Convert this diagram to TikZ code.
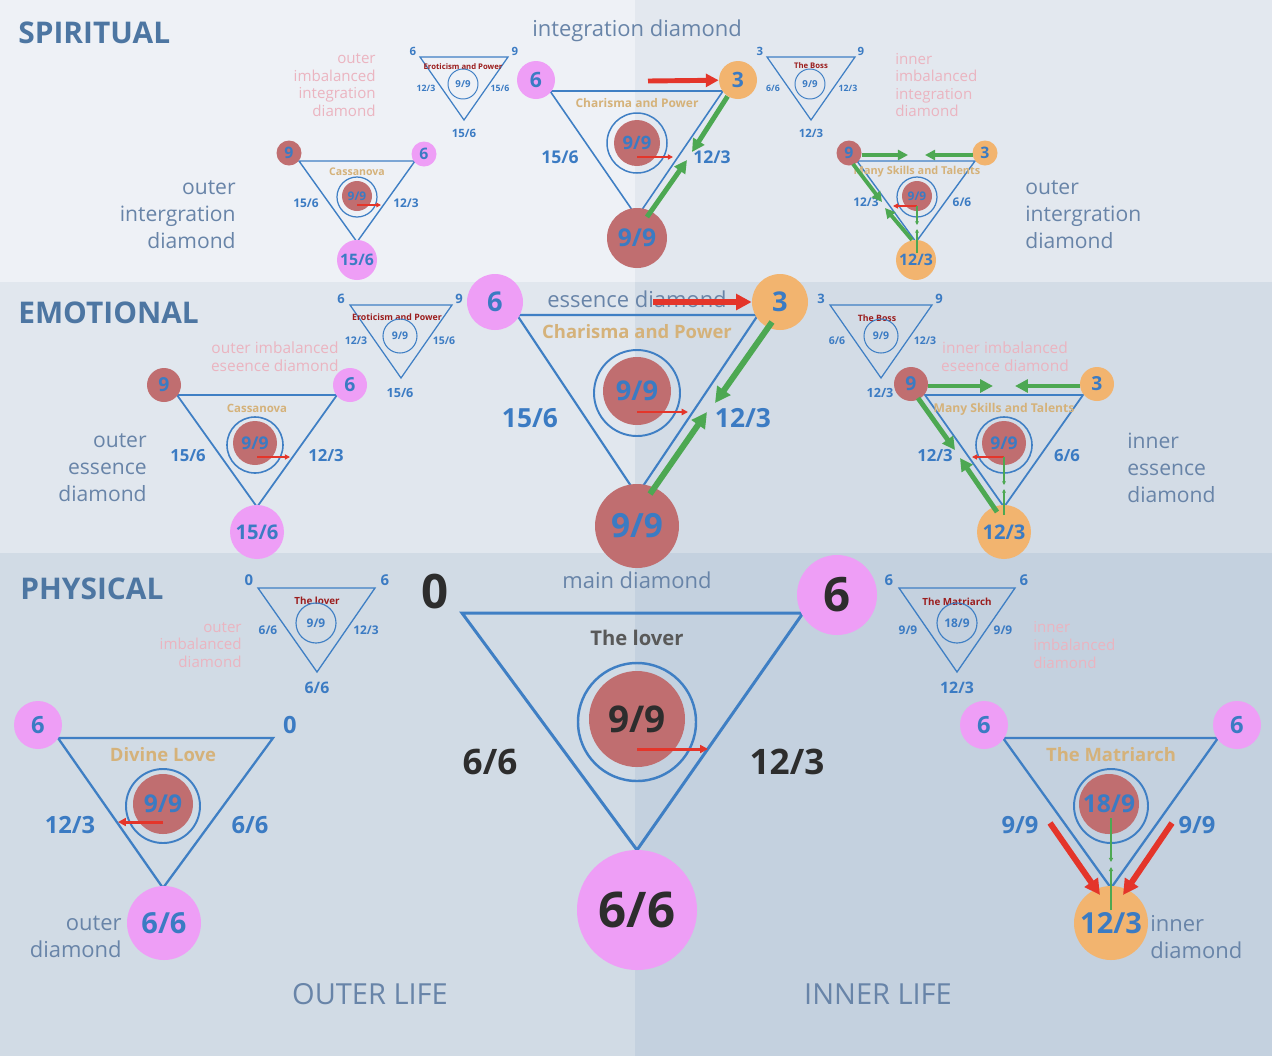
\documentclass[tikz,border=0pt]{standalone}
\usepackage{fontspec}
\setmainfont{Open Sans}
\usepackage{tikz}
\usetikzlibrary{arrows.meta}
\definecolor{BgSpL}{HTML}{EEF1F6}
\definecolor{BgSpR}{HTML}{E3E8EF}
\definecolor{BgEmL}{HTML}{E1E7EE}
\definecolor{BgEmR}{HTML}{D3DCE6}
\definecolor{BgPhL}{HTML}{D1DBE5}
\definecolor{BgPhR}{HTML}{C4D1DF}
\definecolor{LineBlue}{HTML}{3F7FC4}
\definecolor{NumBlue}{HTML}{3B7BC3}
\definecolor{PinkC}{HTML}{EE9EF6}
\definecolor{RedC}{HTML}{C06E70}
\definecolor{OrangeC}{HTML}{F2B46F}
\definecolor{GoldT}{HTML}{D5B27A}
\definecolor{DarkRed}{HTML}{9B1D1D}
\definecolor{FadePink}{HTML}{EBB4C0}
\definecolor{LblGray}{HTML}{6884A8}
\definecolor{TitleBlue}{HTML}{4D76A2}
\definecolor{ArrGreen}{HTML}{4DA852}
\definecolor{ArrRed}{HTML}{E4352A}
\definecolor{DarkTxt}{HTML}{2D2D2D}
\definecolor{LoverGray}{HTML}{595959}
\newcommand\fsz[2]{\fontsize{#1}{#2}\selectfont}
\newcommand\bnum[1]{\fontsize{#1}{#1}\selectfont\bfseries}

\begin{document}
\begin{tikzpicture}[x=0.02cm, y=-0.02cm,
    ball/.style={circle, inner sep=0pt, minimum size=#1*0.02cm, text=NumBlue},
    pk/.style={ball=#1, fill=PinkC},
    rd/.style={ball=#1, fill=RedC},
    og/.style={ball=#1, fill=OrangeC},
    ring/.style={circle, inner sep=0pt, minimum size=#1*0.02cm, draw=LineBlue, text=NumBlue},
    tri/.style={draw=LineBlue, line width=#1},
    num/.style={text=NumBlue, inner sep=0pt},
    gold/.style={text=GoldT, inner sep=0pt},
    boss/.style={text=DarkRed, inner sep=0pt, font=\bnum{#1}},
    lbl/.style={text=LblGray, inner sep=0pt},
    faint/.style={text=FadePink, inner sep=0pt, font=\fsz{8.6}{10}},
    band/.style={text=TitleBlue, inner sep=0pt, anchor=west, font=\bnum{17}},
    rarr/.style={draw=ArrRed, line width=#1, -{Triangle[length=0pt 2.6, width=0pt 2.6]}},
    garr/.style={draw=ArrGreen, line width=#1, -{Triangle[length=0pt 2.6, width=0pt 2.6]}}
  ]
  \useasboundingbox (0,0) rectangle (1272,1056);

  % bands: outer life left, inner life right
  \fill[BgSpL] (0,0) rectangle (635,282);
  \fill[BgSpR] (635,0) rectangle (1272,282);
  \fill[BgEmL] (0,282) rectangle (635,553);
  \fill[BgEmR] (635,282) rectangle (1272,553);
  \fill[BgPhL] (0,553) rectangle (635,1056);
  \fill[BgPhR] (635,553) rectangle (1272,1056);

  \node[band] (tSpi) at (18,33) {SPIRITUAL};
  \node[band] (tEmo) at (18,313) {EMOTIONAL};
  \node[band] (tPhy) at (20,589) {PHYSICAL};

  % ---------------- spiritual
  \node[lbl, font=\fsz{12.5}{15}] (sTitle) at (637,31) {integration diamond};
  \node[faint, anchor=east, align=right] (sFadeL) at (376,85) {outer\\imbalanced\\integration\\diamond};
  \node[faint, anchor=west, align=left] (sFadeR) at (895,85) {inner\\imbalanced\\integration\\diamond};
  \node[lbl, font=\fsz{12}{15.3}, anchor=east, align=right] (sOutL) at (236,215) {outer\\intergration\\diamond};
  \node[lbl, font=\fsz{12}{15.3}, anchor=west, align=left] (sOutR) at (1025,215) {outer\\intergration\\diamond};

  % main integration diamond
  \coordinate (sa) at (550,91); \coordinate (sb) at (723,91); \coordinate (sc) at (637,217);
  \draw[tri=0.9pt] (sa) -- (sb) -- (sc) -- cycle;
  \node[gold, font=\bnum{6.8}] (sName) at (637,103) {Charisma and Power};
  \node[ring=60, line width=0.85pt] (sRing) at (637,143) {};
  \node[rd=46, font=\bnum{10.5}] (sCore) at (637,143) {9/9};
  \node[pk=38, font=\bnum{12}] (sSix) at (536,80) {6};
  \node[og=38, font=\bnum{12}] (sThree) at (738,80) {3};
  \node[rd=60, font=\bnum{14}] (sBase) at (637,238) {9/9};
  \node[num, font=\bnum{10}] (sLeft) at (560,157) {15/6};
  \node[num, font=\bnum{10}] (sRight) at (712,157) {12/3};
  \coordinate (sR1) at (637,157); \coordinate (sR2) at (673,157);
  \draw[rarr=1.1pt] (sR1) -- (sR2);
  \coordinate (sR3) at (648,81);
  \draw[rarr=2.8pt] (sR3) -- (sThree);
  \coordinate (sG1) at (692,152); \coordinate (sG2) at (647,217); \coordinate (sG3) at (687,160);
  \draw[garr=2.8pt] (sThree) -- (sG1);
  \draw[garr=2.8pt] (sG2) -- (sG3);

  % outer imbalanced (small)
  \coordinate (e1a) at (420,57); \coordinate (e1b) at (508,57); \coordinate (e1c) at (464,120);
  \draw[tri=0.7pt] (e1a) -- (e1b) -- (e1c) -- cycle;
  \node[num, font=\bnum{6.5}] (e1x) at (413,51) {6};
  \node[num, font=\bnum{6.5}] (e1y) at (515,51) {9};
  \node[boss=4.4] (e1n) at (463,67) {Eroticism and Power};
  \node[ring=30, line width=0.55pt, font=\bnum{5.5}] (e1r) at (463,84) {9/9};
  \node[num, font=\bnum{5}] (e1l) at (426,88) {12/3};
  \node[num, font=\bnum{5}] (e1m) at (500,88) {15/6};
  \node[num, font=\bnum{6.5}] (e1z) at (464,133) {15/6};

  % outer integration (Cassanova)
  \coordinate (soa) at (299,161); \coordinate (sob) at (415,161); \coordinate (soc) at (357,242);
  \draw[tri=0.8pt] (soa) -- (sob) -- (soc) -- cycle;
  \node[gold, font=\bnum{6}] (soName) at (357,172) {Cassanova};
  \node[ring=40, line width=0.7pt] (soRing) at (357,197) {};
  \node[rd=30, font=\bnum{6.8}] (soCore) at (357,196) {9/9};
  \node[rd=25, font=\bnum{9}] (soNine) at (289,153) {9};
  \node[pk=25, font=\bnum{9}] (soSix) at (424,154) {6};
  \node[pk=40, font=\bnum{9}] (soBase) at (357,260) {15/6};
  \node[num, font=\bnum{6.8}] (soLeft) at (306,203) {15/6};
  \node[num, font=\bnum{6.8}] (soRight) at (406,203) {12/3};
  \coordinate (soR1) at (357,205); \coordinate (soR2) at (381,205);
  \draw[rarr=1pt] (soR1) -- (soR2);

  % inner imbalanced (small)
  \coordinate (b1a) at (767,57); \coordinate (b1b) at (855,57); \coordinate (b1c) at (811,120);
  \draw[tri=0.7pt] (b1a) -- (b1b) -- (b1c) -- cycle;
  \node[num, font=\bnum{6.5}] (b1x) at (760,51) {3};
  \node[num, font=\bnum{6.5}] (b1y) at (861,51) {9};
  \node[boss=4.4] (b1n) at (811,66) {The Boss};
  \node[ring=30, line width=0.55pt, font=\bnum{5.5}] (b1r) at (810,84) {9/9};
  \node[num, font=\bnum{5}] (b1l) at (773,88) {6/6};
  \node[num, font=\bnum{5}] (b1m) at (848,88) {12/3};
  \node[num, font=\bnum{6.5}] (b1z) at (811,133) {12/3};

  % inner integration (Many Skills)
  \coordinate (sia) at (857,161); \coordinate (sib) at (975,161); \coordinate (sic) at (916,242);
  \draw[tri=0.8pt] (sia) -- (sib) -- (sic) -- cycle;
  \node[gold, font=\bnum{6.2}] (siName) at (917,172) {Many Skills and Talents};
  \node[ring=40, line width=0.7pt] (siRing) at (917,197) {};
  \node[rd=30, font=\bnum{6.8}] (siCore) at (917,196) {9/9};
  \node[rd=25, font=\bnum{9}] (siNine) at (849,153) {9};
  \node[og=25, font=\bnum{9}] (siThree) at (985,153) {3};
  \node[og=40, font=\bnum{9}] (siBase) at (916,260) {12/3};
  \node[num, font=\bnum{6.8}] (siLeft) at (866,202) {12/3};
  \node[num, font=\bnum{6.8}] (siRight) at (962,202) {6/6};
  \coordinate (siG1) at (862,155); \coordinate (siG2) at (908,155);
  \coordinate (siG3) at (973,155); \coordinate (siG4) at (925,155);
  \coordinate (siG5) at (853,164); \coordinate (siG6) at (882,202);
  \coordinate (siG7) at (912,240); \coordinate (siG8) at (885,208);
  \draw[garr=2.2pt] (siG1) -- (siG2);
  \draw[garr=2.2pt] (siG3) -- (siG4);
  \draw[garr=2.2pt] (siG5) -- (siG6);
  \draw[garr=2.2pt] (siG7) -- (siG8);
  \coordinate (siC) at (917,206); \coordinate (siR) at (893,206);
  \coordinate (siD1) at (917,225); \coordinate (siD2) at (917,253); \coordinate (siD3) at (917,229);
  \draw[rarr=1.1pt] (siC) -- (siR);
  \draw[garr=0.8pt] (siC) -- (siD1);
  \draw[garr=0.8pt] (siD2) -- (siD3);

  % ---------------- emotional
  \node[lbl, font=\fsz{12.5}{15}] (eTitle) at (637,299) {essence diamond};
  \node[faint, font=\fsz{8.8}{10.2}, anchor=east, align=right] (eFadeL) at (339,357) {outer imbalanced\\eseence diamond};
  \node[faint, font=\fsz{8.8}{10.2}, align=center] (eFadeR) at (1005,357) {inner imbalanced\\eseence diamond};
  \node[lbl, font=\fsz{12}{15.3}, anchor=east, align=right] (eOutL) at (147,468) {outer\\essence\\diamond};
  \node[lbl, font=\fsz{12}{15.3}, anchor=west, align=left] (eOutR) at (1127,468) {inner\\essence\\diamond};

  % main essence diamond
  \coordinate (ema) at (517,315); \coordinate (emb) at (758,315); \coordinate (emc) at (637,495);
  \draw[tri=1.2pt] (ema) -- (emb) -- (emc) -- cycle;
  \node[gold, font=\bnum{10.5}] (emName) at (637,332) {Charisma and Power};
  \node[ring=86, line width=1.1pt] (emRing) at (637,393) {};
  \node[rd=68, font=\bnum{15.5}] (emCore) at (637,391) {9/9};
  \node[pk=56, font=\bnum{15.5}] (emSix) at (495,302) {6};
  \node[og=56, font=\bnum{15.5}] (emThree) at (780,302) {3};
  \node[rd=84, font=\bnum{19}] (emBase) at (637,526) {9/9};
  \node[num, font=\bnum{15}] (emLeft) at (530,418) {15/6};
  \node[num, font=\bnum{15}] (emRight) at (743,418) {12/3};
  \coordinate (emR1) at (637,412); \coordinate (emR2) at (688,412);
  \draw[rarr=1.4pt] (emR1) -- (emR2);
  \coordinate (emR3) at (653,302);
  \draw[rarr=3.4pt] (emR3) -- (emThree);
  \coordinate (emG1) at (772,322); \coordinate (emG2) at (715,403);
  \coordinate (emG3) at (650,494); \coordinate (emG4) at (707,412);
  \draw[garr=3.4pt] (emG1) -- (emG2);
  \draw[garr=3.4pt] (emG3) -- (emG4);

  % outer imbalanced (small)
  \coordinate (e2a) at (350,305); \coordinate (e2b) at (452,305); \coordinate (e2c) at (401,378);
  \draw[tri=0.7pt] (e2a) -- (e2b) -- (e2c) -- cycle;
  \node[num, font=\bnum{7.4}] (e2x) at (341,299) {6};
  \node[num, font=\bnum{7.4}] (e2y) at (459,299) {9};
  \node[boss=5] (e2n) at (397,317) {Eroticism and Power};
  \node[ring=34, line width=0.6pt, font=\bnum{6}] (e2r) at (400,336) {9/9};
  \node[num, font=\bnum{6}] (e2l) at (356,341) {12/3};
  \node[num, font=\bnum{6}] (e2m) at (444,341) {15/6};
  \node[num, font=\bnum{7.2}] (e2z) at (400,393) {15/6};

  % outer essence (Cassanova)
  \coordinate (eoa) at (177,395); \coordinate (eob) at (337,395); \coordinate (eoc) at (257,507);
  \draw[tri=1pt] (eoa) -- (eob) -- (eoc) -- cycle;
  \node[gold, font=\bnum{6.5}] (eoName) at (257,408) {Cassanova};
  \node[ring=56, line width=0.9pt] (eoRing) at (255,445) {};
  \node[rd=44, font=\bnum{10}] (eoCore) at (255,443) {9/9};
  \node[rd=34, font=\bnum{11}] (eoNine) at (164,385) {9};
  \node[pk=34, font=\bnum{11}] (eoSix) at (350,385) {6};
  \node[pk=54, font=\bnum{11.5}] (eoBase) at (257,532) {15/6};
  \node[num, font=\bnum{9.5}] (eoLeft) at (188,456) {15/6};
  \node[num, font=\bnum{9.5}] (eoRight) at (326,456) {12/3};
  \coordinate (eoR1) at (257,457); \coordinate (eoR2) at (290,457);
  \draw[rarr=1.1pt] (eoR1) -- (eoR2);

  % inner imbalanced (small)
  \coordinate (b2a) at (830,305); \coordinate (b2b) at (932,305); \coordinate (b2c) at (881,378);
  \draw[tri=0.7pt] (b2a) -- (b2b) -- (b2c) -- cycle;
  \node[num, font=\bnum{7.4}] (b2x) at (821,299) {3};
  \node[num, font=\bnum{7.4}] (b2y) at (939,299) {9};
  \node[boss=5] (b2n) at (877,318) {The Boss};
  \node[ring=34, line width=0.6pt, font=\bnum{6}] (b2r) at (881,336) {9/9};
  \node[num, font=\bnum{6}] (b2l) at (837,341) {6/6};
  \node[num, font=\bnum{6}] (b2m) at (925,341) {12/3};
  \node[num, font=\bnum{7.2}] (b2z) at (880,393) {12/3};

  % inner essence (Many Skills)
  \coordinate (eia) at (925,395); \coordinate (eib) at (1083,395); \coordinate (eic) at (1004,507);
  \draw[tri=1pt] (eia) -- (eib) -- (eic) -- cycle;
  \node[gold, font=\bnum{6.9}] (eiName) at (1004,409) {Many Skills and Talents};
  \node[ring=56, line width=0.9pt] (eiRing) at (1004,445) {};
  \node[rd=44, font=\bnum{10}] (eiCore) at (1004,443) {9/9};
  \node[rd=34, font=\bnum{11}] (eiNine) at (911,384) {9};
  \node[og=34, font=\bnum{11}] (eiThree) at (1097,384) {3};
  \node[og=54, font=\bnum{11.5}] (eiBase) at (1004,532) {12/3};
  \node[num, font=\bnum{9.5}] (eiLeft) at (935,456) {12/3};
  \node[num, font=\bnum{9.5}] (eiRight) at (1067,456) {6/6};
  \coordinate (eiG1) at (928,386); \coordinate (eiG2) at (993,386);
  \coordinate (eiG3) at (1080,386); \coordinate (eiG4) at (1015,386);
  \coordinate (eiG5) at (918,398); \coordinate (eiG6) at (955,450);
  \coordinate (eiG7) at (997,512); \coordinate (eiG8) at (960,458);
  \draw[garr=2.8pt] (eiG1) -- (eiG2);
  \draw[garr=2.8pt] (eiG3) -- (eiG4);
  \draw[garr=2.8pt] (eiG5) -- (eiG6);
  \draw[garr=2.8pt] (eiG7) -- (eiG8);
  \coordinate (eiC) at (1004,457); \coordinate (eiR) at (972,457);
  \coordinate (eiD1) at (1004,485); \coordinate (eiD2) at (1004,515); \coordinate (eiD3) at (1004,489);
  \draw[rarr=1.1pt] (eiC) -- (eiR);
  \draw[garr=0.8pt] (eiC) -- (eiD1);
  \draw[garr=0.8pt] (eiD2) -- (eiD3);

  % ---------------- physical
  \node[lbl, font=\fsz{12.5}{15}] (pTitle) at (637,580) {main diamond};
  \node[faint, anchor=east, align=right] (pFadeL) at (242,645) {outer\\imbalanced\\diamond};
  \node[faint, anchor=west, align=left] (pFadeR) at (1033,645) {inner\\imbalanced\\diamond};
  \node[lbl, font=\fsz{12.5}{15.3}, anchor=east, align=right] (pOutL) at (122,937) {outer\\diamond};
  \node[lbl, font=\fsz{12.5}{15.3}, anchor=west, align=left] (pOutR) at (1150,937) {inner\\diamond};
  \node[lbl, font=\fsz{16.5}{16.5}] (pOuter) at (370,994) {OUTER LIFE};
  \node[lbl, font=\fsz{16.5}{16.5}] (pInner) at (878,994) {INNER LIFE};

  % main diamond
  \coordinate (pma) at (462,613); \coordinate (pmb) at (803,613); \coordinate (pmc) at (637,850);
  \draw[tri=1.7pt] (pma) -- (pmb) -- (pmc) -- cycle;
  \node[num, text=DarkTxt, font=\bnum{27}] (pmZero) at (435,592) {0};
  \node[num, text=LoverGray, font=\bnum{11.5}] (pmName) at (637,638) {The lover};
  \node[ring=118, line width=1.4pt] (pmRing) at (637,722) {};
  \node[rd=96, text=DarkTxt, font=\bnum{21}] (pmCore) at (637,719) {9/9};
  \node[pk=80, text=DarkTxt, font=\bnum{27}] (pmSix) at (837,595) {6};
  \node[pk=120, text=DarkTxt, font=\bnum{28}] (pmBase) at (637,910) {6/6};
  \node[num, text=DarkTxt, font=\bnum{20}] (pmLeft) at (490,762) {6/6};
  \node[num, text=DarkTxt, font=\bnum{20}] (pmRight) at (787,762) {12/3};
  \coordinate (pmR1) at (637,749); \coordinate (pmR2) at (708,749);
  \draw[rarr=1.7pt] (pmR1) -- (pmR2);

  % outer imbalanced (small)
  \coordinate (p1a) at (258,588); \coordinate (p1b) at (375,588); \coordinate (p1c) at (317,672);
  \draw[tri=0.75pt] (p1a) -- (p1b) -- (p1c) -- cycle;
  \node[num, font=\bnum{8.5}] (p1x) at (249,580) {0};
  \node[num, font=\bnum{8.5}] (p1y) at (385,580) {6};
  \node[boss=5.6] (p1n) at (317,601) {The lover};
  \node[ring=40, line width=0.65pt, font=\bnum{6.8}] (p1r) at (316,623) {9/9};
  \node[num, font=\bnum{6.8}] (p1l) at (268,630) {6/6};
  \node[num, font=\bnum{6.8}] (p1m) at (366,630) {12/3};
  \node[num, font=\bnum{9}] (p1z) at (317,688) {6/6};

  % outer diamond (Divine Love)
  \coordinate (poa) at (58,738); \coordinate (pob) at (273,738); \coordinate (poc) at (163,888);
  \draw[tri=1.3pt] (poa) -- (pob) -- (poc) -- cycle;
  \node[gold, font=\bnum{10.5}] (poName) at (163,755) {Divine Love};
  \node[ring=74, line width=1.1pt] (poRing) at (163,806) {};
  \node[rd=60, font=\bnum{14}] (poCore) at (163,804) {9/9};
  \node[pk=48, font=\bnum{13.5}] (poSix) at (38,725) {6};
  \node[num, font=\bnum{13.5}] (poZero) at (290,725) {0};
  \node[pk=74, font=\bnum{16.5}] (poBase) at (164,923) {6/6};
  \node[num, font=\bnum{13.5}] (poLeft) at (70,825) {12/3};
  \node[num, font=\bnum{13.5}] (poRight) at (250,825) {6/6};
  \coordinate (poR1) at (163,822); \coordinate (poR2) at (118,822);
  \draw[rarr=1.7pt] (poR1) -- (poR2);

  % inner imbalanced (small)
  \coordinate (p2a) at (899,588); \coordinate (p2b) at (1015,588); \coordinate (p2c) at (957,672);
  \draw[tri=0.75pt] (p2a) -- (p2b) -- (p2c) -- cycle;
  \node[num, font=\bnum{8.5}] (p2x) at (889,580) {6};
  \node[num, font=\bnum{8.5}] (p2y) at (1024,580) {6};
  \node[boss=5.6] (p2n) at (957,602) {The Matriarch};
  \node[ring=40, line width=0.65pt, font=\bnum{6.8}] (p2r) at (957,623) {18/9};
  \node[num, font=\bnum{6.8}] (p2l) at (908,630) {9/9};
  \node[num, font=\bnum{6.8}] (p2m) at (1003,630) {9/9};
  \node[num, font=\bnum{9}] (p2z) at (957,688) {12/3};

  % inner diamond (The Matriarch)
  \coordinate (pia) at (1003,738); \coordinate (pib) at (1218,738); \coordinate (pic) at (1111,888);
  \draw[tri=1.3pt] (pia) -- (pib) -- (pic) -- cycle;
  \node[gold, font=\bnum{10.5}] (piName) at (1111,755) {The Matriarch};
  \node[ring=74, line width=1.1pt] (piRing) at (1111,806) {};
  \node[rd=60, font=\bnum{14}] (piCore) at (1109,804) {18/9};
  \node[pk=48, font=\bnum{13.5}] (piSixL) at (984,725) {6};
  \node[pk=48, font=\bnum{13.5}] (piSixR) at (1237,725) {6};
  \node[og=74, font=\bnum{16.5}] (piBase) at (1111,923) {12/3};
  \node[num, font=\bnum{13.5}] (piLeft) at (1020,825) {9/9};
  \node[num, font=\bnum{13.5}] (piRight) at (1197,825) {9/9};
  \coordinate (piR1) at (1050,823); \coordinate (piR2) at (1100,895);
  \coordinate (piR3) at (1172,823); \coordinate (piR4) at (1123,895);
  \draw[rarr=3.4pt] (piR1) -- (piR2);
  \draw[rarr=3.4pt] (piR3) -- (piR4);
  \coordinate (piG1) at (1111,818); \coordinate (piG2) at (1111,862);
  \coordinate (piG3) at (1111,910); \coordinate (piG4) at (1111,867);
  \draw[garr=0.9pt] (piG1) -- (piG2);
  \draw[garr=0.9pt] (piG3) -- (piG4);
\end{tikzpicture}
\end{document}
